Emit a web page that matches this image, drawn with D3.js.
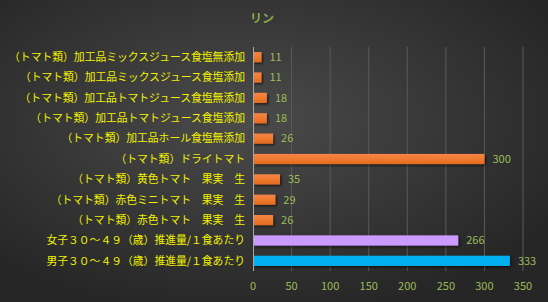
<!DOCTYPE html>
<html>
<head>
<meta charset="utf-8">
<script src="https://cdn.jsdelivr.net/npm/d3@7"></script>
<style>
  body { margin: 0; padding: 0; background: #2a2a2a; }
  svg { display: block; }
</style>
</head>
<body>
<script>
var width = 548,
    height = 302;

// top to bottom
var categories = [
  "（トマト類）加工品ミックスジュース食塩無添加",
  "（トマト類）加工品ミックスジュース食塩添加",
  "（トマト類）加工品トマトジュース食塩無添加",
  "（トマト類）加工品トマトジュース食塩添加",
  "（トマト類）加工品ホール食塩無添加",
  "（トマト類）ドライトマト",
  "（トマト類）黄色トマト　果実　生",
  "（トマト類）赤色ミニトマト　果実　生",
  "（トマト類）赤色トマト　果実　生",
  "女子３０～４９（歳）推進量/１食あたり",
  "男子３０～４９（歳）推進量/１食あたり"
];
var values = [11, 11, 18, 18, 26, 300, 35, 29, 26, 266, 333];
var barColors = ["#f07c30", "#f07c30", "#f07c30", "#f07c30", "#f07c30", "#f07c30",
                 "#f07c30", "#f07c30", "#f07c30", "#cc99ff", "#00b0f0"];
var ticks = [0, 50, 100, 150, 200, 250, 300, 350];
var title = "リン";

var font = "'Noto Sans CJK JP', 'Noto Sans', sans-serif";

var svg = d3.select("body").append("svg")
    .attr("width", width)
    .attr("height", height);

var defs = svg.append("defs");

var bg = defs.append("radialGradient")
    .attr("id", "bg")
    .attr("cx", "45%").attr("cy", "40%").attr("r", "65%");
bg.append("stop").attr("offset", "0%").attr("stop-color", "#4b4b4b");
bg.append("stop").attr("offset", "100%").attr("stop-color", "#262626");

var og = defs.append("linearGradient")
    .attr("id", "orange")
    .attr("x1", 0).attr("y1", 0).attr("x2", 0).attr("y2", 1);
og.append("stop").attr("offset", "0%").attr("stop-color", "#f4864a");
og.append("stop").attr("offset", "50%").attr("stop-color", "#f07a2e");
og.append("stop").attr("offset", "100%").attr("stop-color", "#e06a20");

var shadow = defs.append("filter").attr("id", "shadow")
    .attr("x", "-10%").attr("y", "-30%").attr("width", "130%").attr("height", "180%");
shadow.append("feDropShadow")
    .attr("dx", 1.5).attr("dy", 1.5).attr("stdDeviation", 1)
    .attr("flood-color", "#000").attr("flood-opacity", 0.6);

svg.append("rect")
    .attr("width", width)
    .attr("height", height)
    .attr("fill", "url(#bg)");

var x = d3.scaleLinear()
    .domain([0, 350])
    .range([253, 523]);

var y = d3.scaleBand()
    .domain(categories)
    .range([47, 271])
    .paddingInner(0.5)
    .paddingOuter(0.25);

// gridlines
svg.append("g")
  .selectAll("line")
  .data(ticks.slice(1))
  .join("line")
    .attr("x1", d => x(d)).attr("x2", d => x(d))
    .attr("y1", 47).attr("y2", 271)
    .attr("stroke", "#5a5a5a")
    .attr("stroke-width", 1);

// bars
svg.append("g")
  .selectAll("rect")
  .data(values)
  .join("rect")
    .attr("x", x(0))
    .attr("y", (d, i) => y(categories[i]))
    .attr("width", d => x(d) - x(0))
    .attr("height", y.bandwidth())
    .attr("fill", (d, i) => barColors[i] == "#f07c30" ? "url(#orange)" : barColors[i])
    .attr("filter", "url(#shadow)");

// axis line
svg.append("line")
    .attr("x1", x(0) + 0.5).attr("x2", x(0) + 0.5)
    .attr("y1", 47).attr("y2", 271)
    .attr("stroke", "#a6a6a6");

// value labels
svg.append("g")
  .selectAll("text")
  .data(values)
  .join("text")
    .attr("x", d => x(d) + 8)
    .attr("y", (d, i) => y(categories[i]) + y.bandwidth() / 2)
    .attr("dy", "0.35em")
    .attr("fill", "#9bbb59")
    .style("font-family", font)
    .style("font-size", "11px")
    .text(d => d);

// category labels
svg.append("g")
  .selectAll("text")
  .data(categories)
  .join("text")
    .attr("x", 245)
    .attr("y", d => y(d) + y.bandwidth() / 2)
    .attr("dy", "0.35em")
    .attr("text-anchor", "end")
    .attr("fill", "#f2f200")
    .style("font-family", font)
    .style("font-size", "10.8px")
    .text(d => d);

// x tick labels
svg.append("g")
  .selectAll("text")
  .data(ticks)
  .join("text")
    .attr("x", d => x(d))
    .attr("y", 286)
    .attr("dy", "0.35em")
    .attr("text-anchor", "middle")
    .attr("fill", "#9bbb59")
    .style("font-family", font)
    .style("font-size", "11px")
    .text(d => d);

svg.append("text")
    .attr("x", 262)
    .attr("y", 19)
    .attr("dy", "0.35em")
    .attr("text-anchor", "middle")
    .attr("fill", "#86a84a")
    .style("font-family", font)
    .style("font-size", "12px")
    .style("font-weight", "bold")
    .text(title);
</script>
</body>
</html>
